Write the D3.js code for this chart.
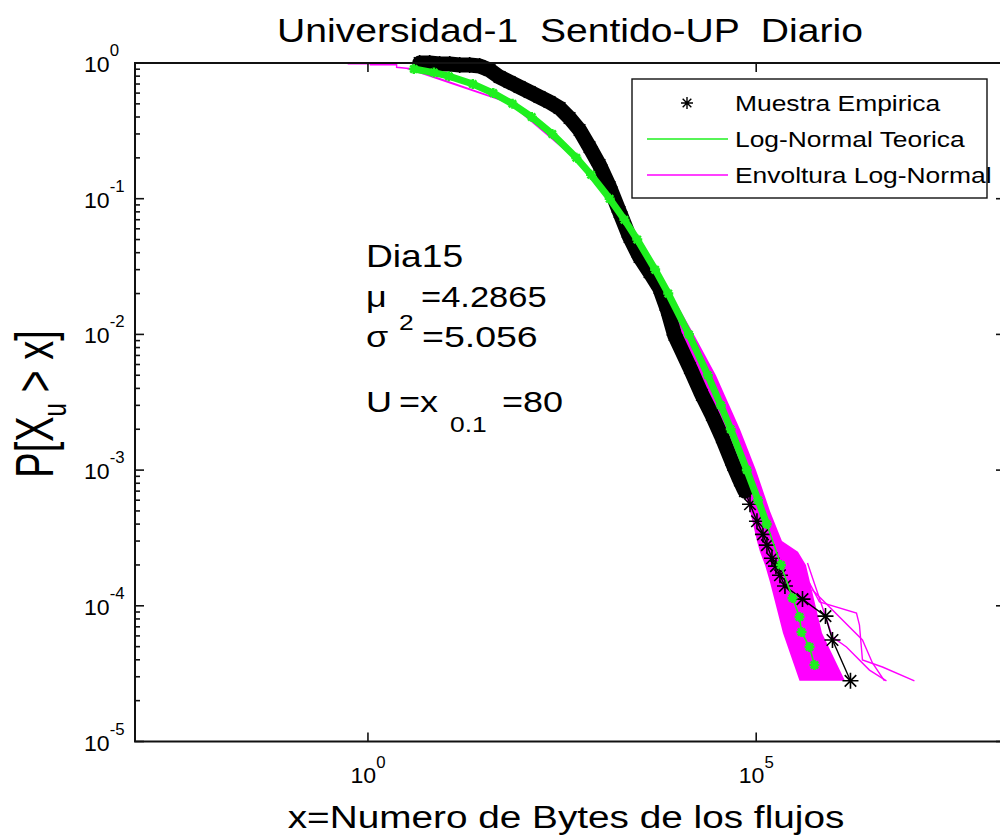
<!DOCTYPE html>
<html>
<head>
<meta charset="utf-8">
<script src="https://cdn.jsdelivr.net/npm/d3@7/dist/d3.min.js"></script>
<style>
  html, body { margin: 0; padding: 0; background: #fff; }
  svg { display: block; }
  text { font-family: "Liberation Sans", Arial, Helvetica, sans-serif; fill: #000; white-space: pre; }
</style>
</head>
<body>
<svg id="chart" width="1000" height="838"></svg>
<script>
// Empirical complementary CDF of flow sizes (bytes), day 15
const empiricalBytes = [4.63, 6.23, 8.38, 11.3, 15.2, 20.4, 27.4, 36.9, 49.6, 66.7, 89.7, 121, 162, 218, 294, 395, 531, 714, 961, 1293, 1739, 2338, 3146, 4230, 5690, 7215, 8879, 14030, 20010, 26920, 36220, 50600, 61770, 71620, 83200, 102300, 122200, 137500, 159600, 179600, 202300, 234500, 394600, 780400, 960000, 1637000];
const empiricalProb  = [1.0, 1.0, 0.983, 0.983, 0.967, 0.967, 0.950, 0.888, 0.788, 0.724, 0.665, 0.611, 0.562, 0.516, 0.466, 0.393, 0.321, 0.240, 0.177, 0.122, 0.0798, 0.0522, 0.0372, 0.0288, 0.0220, 0.0151, 0.00990, 0.00565, 0.00358, 0.00255, 0.00175, 0.00109, 8.4e-4, 7.0e-4, 5.6e-4, 4.2e-4, 3.36e-4, 2.8e-4, 2.24e-4, 1.96e-4, 1.68e-4, 1.4e-4, 1.12e-4, 8.4e-5, 5.6e-5, 2.8e-5];

// Fitted log-normal CCDF
const theoryBytes = [3.9, 7.07, 11.0, 22.4, 41.1, 72.7, 128.5, 236.5, 482.6, 747.6, 1298, 2009, 2938, 4994, 7368, 13600, 23840, 35090, 47040, 75780, 105900, 136800, 208400, 293400, 361000, 383100, 485700, 563000];
const theoryProb  = [0.903, 0.85, 0.8, 0.7, 0.6, 0.5, 0.4, 0.3, 0.2, 0.15, 0.1, 0.07, 0.05, 0.03, 0.02, 0.01, 0.005, 0.003, 0.002, 0.001, 6e-4, 4e-4, 2e-4, 1.14e-4, 8.27e-5, 6.41e-5, 4.97e-5, 3.66e-5];

// Envelope of the simulated log-normal samples: byte range covered at each probability level
const envelopeProb      = [0.903, 0.5, 0.2, 0.1, 0.05, 0.02, 0.01, 0.005, 0.002, 0.001, 5e-4, 3e-4, 2.5e-4, 2e-4, 1.5e-4, 6.3e-5, 2.8e-5];
const envelopeLowBytes  = [3.15, 66.6, 441.6, 1186, 2512, 5930, 11060, 18870, 36220, 58200, 83200, 102300, 111800, 129700, 150300, 221100, 361000];
const envelopeHighBytes = [3.92, 78.2, 521.5, 1388, 3261, 7982, 15790, 30300, 61770, 99270, 150300, 214600, 344900, 437200, 492300, 703600, 1390000];

// Individual simulated runs visible outside the main band
const runHeadBytes = [0.548, 1.08, 1.08, 2.34, 2.34, 3.9];
const runHeadProb  = [0.985, 0.985, 0.97, 0.97, 0.93, 0.903];
const runABytes = [485700, 653100, 1956000, 2137000, 2336000, 4227000, 10910000];
const runAProb  = [1.47e-4, 1.07e-4, 8.85e-5, 7.22e-5, 3.99e-5, 3.54e-5, 2.8e-5];
const runBBytes = [457700, 960000, 1454000, 2875000, 4759000];
const runBProb  = [2.07e-4, 5.89e-5, 4.97e-5, 3.36e-5, 2.8e-5];
const runCBytes = [530900, 2336000, 3143000, 4486000];
const runCProb  = [1.31e-4, 5.60e-5, 3.79e-5, 2.8e-5];

// Axis ticks
const xTicks = [1, 1e5];
const xTickExponents = ["0", "5"];
const yTicks = [1, 1e-1, 1e-2, 1e-3, 1e-4, 1e-5];
const yTickExponents = ["0", "-1", "-2", "-3", "-4", "-5"];
const yMinorMultipliers = [2, 3, 4, 5, 6, 7, 8, 9];

// Texts
const titleText = "Universidad-1  Sentido-UP  Diario";
const xLabelText = "x=Numero de Bytes de los flujos";
const legendLabels = ["Muestra Empirica", "Log-Normal Teorica", "Envoltura Log-Normal"];
const dayLabel = "Dia15";
const muValue = "4.2865";
const sigma2Value = "5.056";
const uValue = "80";

// ---------------------------------------------------------------
const svg = d3.select("#chart");
const GREEN = "#1ff01f", MAGENTA = "#ff00ff";
const STRETCH = 1.2;   // fonts are drawn slightly wide

const x = d3.scaleLog().domain([1e-3, 1.6e8]).range([135, 1005]);
const y = d3.scaleLog().domain([1e-5, 1]).range([741.5, 63]);
const plotLeft = x.range()[0], plotRight = x.range()[1];
const plotTop = y.range()[1], plotBottom = y.range()[0];

function zip(xs, ps) { return xs.map((b, i) => ({ b, p: ps[i] })); }
const line = d3.line().x(d => x(d.b)).y(d => y(d.p));

function starPath(r) {
  const a = r * 0.72;
  return `M${-r},0H${r}M0,${-r}V${r}M${-a},${-a}L${a},${a}M${-a},${a}L${a},${-a}`;
}

// text helper: widened text anchored at (tx, ty); the widening is applied in screen space
function wideText(parent, tx, ty, sx, rotate) {
  const g = parent.append("g")
    .attr("transform", `translate(${tx},${ty}) scale(${sx},1)${rotate ? ` rotate(${rotate})` : ""}`);
  return g.append("text").attr("x", 0).attr("y", 0);
}

// ---- envelope (magenta) ----
const env = envelopeProb.map((p, i) => ({ p, lo: envelopeLowBytes[i], hi: envelopeHighBytes[i] }));
svg.append("path")
  .datum(env)
  .attr("d", d3.area().y(d => y(d.p)).x0(d => x(d.lo)).x1(d => x(d.hi)))
  .attr("fill", MAGENTA);
[[runHeadBytes, runHeadProb], [runABytes, runAProb], [runBBytes, runBProb], [runCBytes, runCProb]]
  .forEach(([bs, ps]) => {
    svg.append("path").datum(zip(bs, ps)).attr("d", line)
      .attr("fill", "none").attr("stroke", MAGENTA).attr("stroke-width", 1.4);
  });

// ---- empirical sample (black asterisks) ----
const emp = zip(empiricalBytes, empiricalProb);
svg.append("path").datum(emp.filter(d => d.p >= 7e-4)).attr("d", line)
  .attr("fill", "none").attr("stroke", "#000").attr("stroke-width", 15)
  .attr("stroke-linejoin", "round").attr("stroke-linecap", "round");
svg.append("path").datum(emp).attr("d", line)
  .attr("fill", "none").attr("stroke", "#000").attr("stroke-width", 1.4);
svg.append("g").selectAll("path").data(emp).join("path")
  .attr("transform", d => `translate(${x(d.b)},${y(d.p)})`)
  .attr("d", starPath(8)).attr("stroke", "#000").attr("stroke-width", 1.6).attr("fill", "none");

// ---- theoretical log-normal (green) ----
const th = zip(theoryBytes, theoryProb);
svg.append("path").datum(th.filter(d => d.p >= 3e-4)).attr("d", line)
  .attr("fill", "none").attr("stroke", GREEN).attr("stroke-width", 7)
  .attr("stroke-linejoin", "round").attr("stroke-linecap", "round");
svg.append("path").datum(th).attr("d", line)
  .attr("fill", "none").attr("stroke", GREEN).attr("stroke-width", 1.6);
svg.append("g").selectAll("path").data(th).join("path")
  .attr("transform", d => `translate(${x(d.b)},${y(d.p)})`)
  .attr("d", starPath(5)).attr("stroke", GREEN).attr("stroke-width", 2.6).attr("fill", "none");

// ---- axes box ----
const axisColor = "#111";
svg.append("path")
  .attr("d", `M${plotLeft},${plotTop}H${plotRight}V${plotBottom}H${plotLeft}Z`)
  .attr("fill", "none").attr("stroke", axisColor).attr("stroke-width", 2);

const ticks = svg.append("g").attr("stroke", axisColor).attr("stroke-width", 1.6);
const MAJ = 9, MIN = 5;
yTicks.forEach(v => {
  ticks.append("line").attr("x1", plotLeft).attr("x2", plotLeft + MAJ).attr("y1", y(v)).attr("y2", y(v));
  ticks.append("line").attr("x1", plotRight).attr("x2", plotRight - MAJ).attr("y1", y(v)).attr("y2", y(v));
});
yTicks.slice(1).forEach(v => {
  yMinorMultipliers.forEach(m => {
    const val = v * m;
    ticks.append("line").attr("x1", plotLeft).attr("x2", plotLeft + MIN).attr("y1", y(val)).attr("y2", y(val));
    ticks.append("line").attr("x1", plotRight).attr("x2", plotRight - MIN).attr("y1", y(val)).attr("y2", y(val));
  });
});
xTicks.forEach(v => {
  ticks.append("line").attr("x1", x(v)).attr("x2", x(v)).attr("y1", plotBottom).attr("y2", plotBottom - MAJ);
  ticks.append("line").attr("x1", x(v)).attr("x2", x(v)).attr("y1", plotTop).attr("y2", plotTop + MAJ);
});

// tick labels
yTicks.forEach((v, i) => {
  const t = wideText(svg, 84, y(v) + 9, 1.05).attr("font-size", 22);
  t.append("tspan").text("10");
  t.append("tspan").attr("dy", -16).attr("font-size", 16).text(yTickExponents[i]);
});
xTicks.forEach((v, i) => {
  const t = wideText(svg, x(v), 783, 1.05).attr("font-size", 22).attr("text-anchor", "middle");
  t.append("tspan").text("10");
  t.append("tspan").attr("dy", -15).attr("font-size", 16).text(xTickExponents[i]);
});

// ---- titles ----
wideText(svg, 570, 42, 1.15).attr("font-size", 34).attr("text-anchor", "middle").text(titleText);
wideText(svg, 566, 828, STRETCH + 0.05).attr("font-size", 31).attr("text-anchor", "middle").text(xLabelText);
const yl = wideText(svg, 53, 404, 1.4, -90).attr("font-size", 38).attr("text-anchor", "middle");
yl.append("tspan").text("P[X");
yl.append("tspan").attr("font-size", 24).attr("dy", 9).text("u");
yl.append("tspan").attr("dy", -9).text(" > x]");

// ---- annotation ----
const ann = svg.append("g");
const ANN = 30;
wideText(ann, 366, 267, STRETCH).attr("font-size", ANN + 1).text(dayLabel);
wideText(ann, 366, 307, STRETCH).attr("font-size", ANN).text("\u03bc");
wideText(ann, 421, 307, 1.15).attr("font-size", ANN).text("=" + muValue);
wideText(ann, 366, 347, STRETCH).attr("font-size", ANN).text("\u03c3");
wideText(ann, 399, 330, STRETCH).attr("font-size", 22).text("2");
wideText(ann, 422, 347, 1.25).attr("font-size", ANN).text("=" + sigma2Value);
wideText(ann, 366, 412, STRETCH).attr("font-size", ANN).text("U");
wideText(ann, 399, 412, STRETCH).attr("font-size", ANN).text("=x");
wideText(ann, 450, 432, STRETCH).attr("font-size", 22).text("0.1");
wideText(ann, 502, 412, STRETCH).attr("font-size", ANN).text("=" + uValue);

// ---- legend ----
const lg = svg.append("g");
lg.append("rect").attr("x", 632).attr("y", 79).attr("width", 355).attr("height", 119)
  .attr("fill", "#fff").attr("stroke", axisColor).attr("stroke-width", 1.4);
const rowY = [103, 139, 175];
lg.append("path").attr("transform", `translate(687,${rowY[0]})`).attr("d", starPath(6))
  .attr("stroke", "#000").attr("stroke-width", 1.4).attr("fill", "none");
lg.append("line").attr("x1", 647).attr("x2", 728).attr("y1", rowY[1]).attr("y2", rowY[1])
  .attr("stroke", GREEN).attr("stroke-width", 1.6);
lg.append("line").attr("x1", 647).attr("x2", 728).attr("y1", rowY[2]).attr("y2", rowY[2])
  .attr("stroke", MAGENTA).attr("stroke-width", 1.6);
legendLabels.forEach((lab, i) => {
  wideText(lg, 735, rowY[i] + 8, STRETCH).attr("font-size", 22).text(lab);
});
</script>
</body>
</html>
